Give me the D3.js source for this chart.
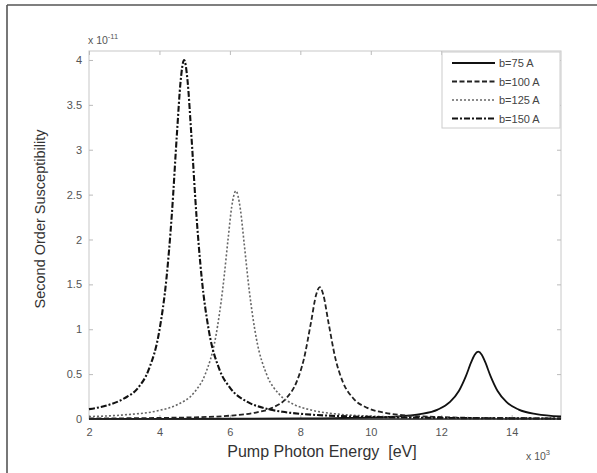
<!DOCTYPE html>
<html>
<head>
<meta charset="utf-8">
<script src="https://cdn.jsdelivr.net/npm/d3@7"></script>
<style>
  body { margin: 0; background: #fff; }
  svg { font-family: "Liberation Sans", Arial, sans-serif; }
</style>
</head>
<body>
<div id="canvas"></div>
<script>
// pump photon energy (x 10^3 eV) and second order susceptibility (x 10^-11)
const legendLabels = ["b=75 A", "b=100 A", "b=125 A", "b=150 A"];
const xTicks = [2, 4, 6, 8, 10, 12, 14];
const yTicks = [0, 0.5, 1, 1.5, 2, 2.5, 3, 3.5, 4];

const energyB75 = [2, 4, 6, 8, 9, 10, 10.8, 11.4, 11.9, 12.25, 12.5, 12.7, 12.85, 12.95, 13.05, 13.15, 13.25, 13.4, 13.6, 13.85, 14.2, 14.7, 15.4];
const chiB75 = [0.001, 0.002, 0.003, 0.006, 0.010, 0.017, 0.030, 0.054, 0.105, 0.19, 0.312, 0.478, 0.633, 0.717, 0.75, 0.717, 0.633, 0.478, 0.312, 0.19, 0.105, 0.054, 0.028];

const energyB100 = [2, 3, 4, 5, 6, 6.7, 7.2, 7.6, 7.9, 8.1, 8.3, 8.45, 8.55, 8.65, 8.8, 9.0, 9.2, 9.5, 9.9, 10.4, 11, 12, 13, 14, 15.4];
const chiB100 = [0.006, 0.008, 0.012, 0.019, 0.037, 0.069, 0.124, 0.231, 0.419, 0.667, 1.071, 1.387, 1.47, 1.387, 1.071, 0.667, 0.419, 0.231, 0.124, 0.069, 0.040, 0.021, 0.012, 0.008, 0.005];

const energyB125 = [2, 3, 4, 4.5, 5, 5.3, 5.6, 5.8, 5.95, 6.05, 6.17, 6.3, 6.4, 6.55, 6.75, 7.05, 7.4, 7.8, 8.3, 9, 10, 11, 12, 13, 14, 15.4];
const chiB125 = [0.027, 0.046, 0.096, 0.158, 0.302, 0.499, 0.92, 1.46, 2.01, 2.36, 2.54, 2.33, 1.975, 1.43, 0.90, 0.49, 0.277, 0.165, 0.100, 0.057, 0.032, 0.020, 0.014, 0.010, 0.008, 0.006];

const energyB150 = [2, 2.5, 3, 3.4, 3.7, 4, 4.2, 4.35, 4.5, 4.6, 4.7, 4.8, 4.9, 5.05, 5.2, 5.4, 5.7, 6, 6.5, 7, 7.5, 8, 9, 10, 11, 12, 13, 14, 15.4];
const chiB150 = [0.11, 0.15, 0.23, 0.35, 0.555, 0.99, 1.57, 2.27, 3.2, 3.76, 4.0, 3.76, 3.2, 2.27, 1.57, 0.99, 0.555, 0.35, 0.19, 0.118, 0.080, 0.058, 0.034, 0.023, 0.016, 0.012, 0.009, 0.007, 0.006];

const series = [
  { name: legendLabels[0], xs: energyB75, ys: chiB75, dash: null, width: 1.8, color: "#111" },
  { name: legendLabels[1], xs: energyB100, ys: chiB100, dash: "5,2.5", width: 1.8, color: "#222" },
  { name: legendLabels[2], xs: energyB125, ys: chiB125, dash: "2,2", width: 1.6, color: "#666" },
  { name: legendLabels[3], xs: energyB150, ys: chiB150, dash: "6,2,2,2", width: 2.1, color: "#111" }
];

const W = 597, H = 473;
const svg = d3.select("#canvas").append("svg")
  .attr("width", W).attr("height", H);

// figure frame (left and top edges visible)
svg.append("line").attr("x1", 7).attr("y1", 5).attr("x2", 597).attr("y2", 5)
  .attr("stroke", "#555").attr("stroke-width", 1.6);
svg.append("line").attr("x1", 7).attr("y1", 5).attr("x2", 7).attr("y2", 473)
  .attr("stroke", "#555").attr("stroke-width", 1.6);

const x = d3.scaleLinear().domain([2, 15.4]).range([89, 561]);
const y = d3.scaleLinear().domain([0, 4.1]).range([419, 51]);

// axes box
svg.append("rect")
  .attr("x", x(2)).attr("y", y(4.1))
  .attr("width", x(15.4) - x(2)).attr("height", y(0) - y(4.1))
  .attr("fill", "none").attr("stroke", "#c8c8c8").attr("stroke-width", 1);

// inward ticks on all four sides
const xAxisB = svg.append("g").attr("transform", `translate(0,${y(0)})`)
  .call(d3.axisBottom(x).tickValues(xTicks).tickSize(-4).tickPadding(9).tickFormat(d3.format("d")));
const xAxisT = svg.append("g").attr("transform", `translate(0,${y(4.1)})`)
  .call(d3.axisTop(x).tickValues(xTicks).tickSize(-4).tickFormat(""));
const yAxisL = svg.append("g").attr("transform", `translate(${x(2)},0)`)
  .call(d3.axisLeft(y).tickValues(yTicks).tickSize(-4).tickPadding(7).tickFormat(d => d));
const yAxisR = svg.append("g").attr("transform", `translate(${x(15.4)},0)`)
  .call(d3.axisRight(y).tickValues(yTicks).tickSize(-4).tickFormat(""));

[xAxisB, xAxisT, yAxisL, yAxisR].forEach(g => {
  g.select(".domain").remove();
  g.selectAll(".tick line").attr("stroke", "#bbb");
  g.selectAll(".tick text").attr("fill", "#555").style("font-size", "11px");
});

// curves
const line = d3.line()
  .x(d => x(d[0]))
  .y(d => y(d[1]))
  .curve(d3.curveMonotoneX);

series.forEach(s => {
  const pts = s.xs.map((v, i) => [v, s.ys[i]]);
  svg.append("path")
    .datum(pts)
    .attr("d", line)
    .attr("fill", "none")
    .attr("stroke", s.color)
    .attr("stroke-width", s.width)
    .attr("stroke-dasharray", s.dash);
});

// baseline drawn dark as in the reference
svg.append("line")
  .attr("x1", x(2)).attr("x2", x(15.4)).attr("y1", y(0)).attr("y2", y(0))
  .attr("stroke", "#222").attr("stroke-width", 1.4);

// exponent labels
const expTop = svg.append("text").attr("x", 88).attr("y", 44)
  .attr("fill", "#555").style("font-size", "10.5px");
expTop.append("tspan").text("x 10");
expTop.append("tspan").attr("dy", -5).style("font-size", "7.5px").text("-11");

const expBot = svg.append("text").attr("x", 526).attr("y", 460)
  .attr("fill", "#555").style("font-size", "10.5px");
expBot.append("tspan").text("x 10");
expBot.append("tspan").attr("dy", -5).style("font-size", "7.5px").text("3");

// axis titles
svg.append("text")
  .attr("x", 322).attr("y", 457)
  .attr("text-anchor", "middle")
  .attr("xml:space", "preserve")
  .style("white-space", "pre")
  .attr("fill", "#333")
  .style("font-size", "16px")
  .text("Pump Photon Energy  [eV]");

svg.append("text")
  .attr("transform", "translate(45,219) rotate(-90)")
  .attr("text-anchor", "middle")
  .attr("fill", "#333")
  .style("font-size", "14.5px")
  .text("Second Order Susceptibility");

// legend
const legend = svg.append("g");
legend.append("rect")
  .attr("x", 442).attr("y", 52).attr("width", 118).attr("height", 76)
  .attr("fill", "#fff").attr("stroke", "#ccc");
series.forEach((s, i) => {
  const ly = 63 + i * 18.5;
  legend.append("line")
    .attr("x1", 452).attr("x2", 495).attr("y1", ly).attr("y2", ly)
    .attr("stroke", s.color).attr("stroke-width", s.width)
    .attr("stroke-dasharray", s.dash);
  legend.append("text")
    .attr("x", 499).attr("y", ly + 4)
    .attr("fill", "#444")
    .style("font-size", "11px")
    .text(s.name);
});
</script>
</body>
</html>
